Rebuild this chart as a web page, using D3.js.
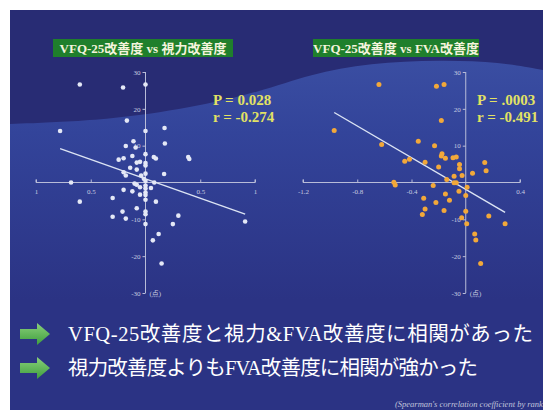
<!DOCTYPE html>
<html><head><meta charset="utf-8">
<script src="https://cdn.jsdelivr.net/npm/d3@7"></script>
<style>html,body{margin:0;padding:0;background:#fff;overflow:hidden}</style>
</head><body><svg id="c" width="543" height="410"></svg>
<script>
// ---- data ----
const leftTitle = "VFQ-25改善度 vs 視力改善度";
const rightTitle = "VFQ-25改善度 vs FVA改善度";
const leftStats = ["P = 0.028", "r = -0.274"];
const rightStats = ["P = .0003", "r = -0.491"];
const leftXTicks = [-1, -0.5, 0.5, 1];
const leftXTickLabels = ["1", "0.5", "0.5", "1"];
const rightXTicks = [-1.2, -0.8, -0.4, 0.4];
const rightXTickLabels = ["-1.2", "-0.8", "-0.4", "0.4"];
const yTicks = [30, 20, 10, -10, -20, -30];
const leftYTickLabels = ["30", "20", "10", "-10", "-20", "-30"];
const rightYTickLabels = ["30", "20", "10", "-10", "-20", "-30"];
const unitLabel = "(点)";
// left: visual acuity improvement (x) vs VFQ-25 improvement (y)
const leftX = [-0.60,-0.205,0,-0.17,-0.78,0,0.174,0.177,-0.11,-0.18,-0.09,0.39,0.40,-0.245,-0.2,-0.12,0,0.076,0.095,-0.08,-0.05,0,0,-0.14,-0.08,-0.2,-0.18,-0.04,0,0.17,-0.015,0,-0.68,-0.1,-0.08,0.08,0,-0.05,0.05,0,-0.2,-0.12,0,-0.05,0,-0.30,0,0.095,-0.60,-0.08,-0.21,0,0,-0.30,-0.18,0.30,0.25,0,0.91,0.12,0.067,0.147];
const leftY = [26.6,25.8,26.6,16.8,14,14,14.8,10.6,11.2,9.9,9.5,6.9,6.4,6.2,6.6,7.2,7.7,6.9,6.5,5.4,5.6,5.3,4.6,4.0,3.5,2.8,1.9,1.9,2.4,2.3,1.0,0.4,0,-0.3,-0.6,0,-0.8,-1.3,-1.5,-1.6,-2,-2.4,-2.7,-3.3,-3.4,-4.2,-4.7,-5.2,-5.2,-7,-7.9,-7.9,-8.6,-9.3,-9.8,-9,-11.3,-11.3,-10.6,-14,-15.7,-22];
const leftFitX = [-0.78, 0.91];
const leftFitY = [9.2, -8.6];
// right: FVA improvement (x) vs VFQ-25 improvement (y)
const rightX = [-0.64,-0.216,-0.16,-0.18,-0.97,-0.62,-0.35,-0.23,-0.175,-0.18,-0.15,-0.094,-0.07,-0.45,-0.415,-0.30,-0.2,-0.046,-0.046,-0.086,-0.027,0.05,0.14,0.15,-0.14,-0.53,-0.52,-0.24,-0.086,-0.07,0.01,-0.05,-0.15,0,-0.31,-0.12,-0.22,-0.30,-0.16,0,-0.32,-0.03,0.17,0.007,0.29,0.066,0.074,0.11];
const rightY = [26.6,26.1,26.6,16.8,14.1,10.3,11.2,10.0,7.8,7.2,6.6,6.7,6.9,5.8,6.3,5.5,4.2,4.9,3.7,1.7,1.9,2.5,5.4,3.2,0.8,0.1,-0.7,-0.8,-0.1,-0.1,-1.3,-2.4,-3.1,-3.5,-4.3,-4.8,-5.4,-7.2,-7.6,-7.8,-8.7,-9.6,-9.1,-11.2,-11.2,-14,-15.6,-22];
const rightFitX = [-0.97, 0.29];
const rightFitY = [19.0, -8.1];
const bullets = ["VFQ-25改善度と視力&FVA改善度に相関があった", "視力改善度よりもFVA改善度に相関が強かった"];
const footnote = "(Spearman's correlation coefficient by rank";

// ---- drawing ----
const svg = d3.select("#c");
const defs = svg.append("defs");
const g1 = defs.append("linearGradient").attr("id","band").attr("gradientUnits","userSpaceOnUse")
  .attr("x1",0).attr("y1",60).attr("x2",0).attr("y2",300);
g1.append("stop").attr("offset","0%").attr("stop-color","#3a4ea2");
g1.append("stop").attr("offset","30%").attr("stop-color","#33449a");
g1.append("stop").attr("offset","100%").attr("stop-color","#2b3384");
const ga = defs.append("linearGradient").attr("id","arr").attr("x1",0).attr("y1",0).attr("x2",0).attr("y2",1);
ga.append("stop").attr("offset","0%").attr("stop-color","#8ad07a");
ga.append("stop").attr("offset","100%").attr("stop-color","#3e9e3e");

// background
svg.append("rect").attr("x",10).attr("y",10).attr("width",533).attr("height",400).attr("fill","#282c74");
const wave = d3.line().curve(d3.curveBasis);
const waveTop = [[10,124],[110,120],[190,108],[260,92],[310,74],[370,63],[440,60],[500,62],[543,70]];
svg.append("path")
  .attr("d", wave(waveTop) + "L543,410L10,410Z")
  .attr("fill","url(#band)");

function panel(opts){
  const x = d3.scaleLinear().domain(opts.xDomain).range(opts.xRange);
  const y = d3.scaleLinear().domain([-30,30]).range([293,72]);
  const g = svg.append("g");
  // x axis
  const ax = d3.axisBottom(x).tickValues(opts.xTicks).tickSize(3).tickPadding(4)
    .tickFormat((d,i)=>opts.xLabels[i]);
  const gx = g.append("g").attr("transform",`translate(0,${y(0)})`).call(ax);
  gx.select(".domain").attr("stroke","#b8bcd8").attr("stroke-width",1).attr("d",`M${opts.xRange[0]},-3V0H${opts.xRange[1]}V-3`);
  gx.selectAll(".tick line").attr("stroke","#b8bcd8").attr("y1",-3).attr("y2",0);
  gx.selectAll(".tick text").attr("fill","#c8cce0").attr("font-size",7).attr("font-family","Liberation Serif");
  // y axis
  const ay = d3.axisLeft(y).tickValues(yTicks).tickSize(3).tickPadding(2)
    .tickFormat((d,i)=>opts.yLabels[i]);
  const gy = g.append("g").attr("transform",`translate(${x(0)},0)`).call(ay);
  gy.select(".domain").attr("stroke","#b8bcd8").attr("stroke-width",1).attr("d",`M0,${y(30)}V${y(-30)}`);
  gy.selectAll(".tick line").attr("stroke","#b8bcd8");
  gy.selectAll(".tick text").attr("fill","#c8cce0").attr("font-size",7).attr("font-family","Liberation Serif");
  g.append("text").attr("x",x(0)+4).attr("y",y(-30)+3).attr("fill","#c8cce0")
    .attr("font-size",7).attr("font-family","Liberation Serif, Noto Sans CJK JP").text(unitLabel);
  // fit line
  g.append("line").attr("x1",x(opts.fitX[0])).attr("y1",y(opts.fitY[0]))
    .attr("x2",x(opts.fitX[1])).attr("y2",y(opts.fitY[1]))
    .attr("stroke","#dce4f4").attr("stroke-width",1.4);
  // points
  g.selectAll("circle.p").data(opts.xs.map((v,i)=>[v,opts.ys[i]])).join("circle")
    .attr("class","p").attr("cx",d=>x(d[0])).attr("cy",d=>y(d[1])).attr("r",opts.r)
    .attr("fill",opts.color);
  // title
  g.append("rect").attr("x",opts.titleBox[0]).attr("y",39).attr("width",opts.titleBox[1]).attr("height",18).attr("fill","#1f7f2c");
  g.append("text").attr("x",opts.titleBox[0]+opts.titleBox[1]/2).attr("y",52.5).attr("text-anchor","middle")
    .attr("fill","#f4f4dc").attr("font-size",13).attr("font-weight","bold")
    .attr("font-family","Liberation Serif, Noto Sans CJK JP").text(opts.title);
  // stats
  opts.stats.forEach((s,i)=>{
    g.append("text").attr("x",opts.statX).attr("y",105+i*17).attr("fill","#e2e264")
      .attr("font-size",15).attr("font-weight",600).attr("font-family","Liberation Serif").text(s);
  });
}

panel({xDomain:[-1,1], xRange:[36,255], xTicks:leftXTicks, xLabels:leftXTickLabels, yLabels:leftYTickLabels,
  xs:leftX, ys:leftY, fitX:leftFitX, fitY:leftFitY, color:"#e4e8f6", r:2.3,
  title:leftTitle, titleBox:[53,180], stats:leftStats, statX:213});
panel({xDomain:[-1.2,0.4], xRange:[303,520], xTicks:rightXTicks, xLabels:rightXTickLabels, yLabels:rightYTickLabels,
  xs:rightX, ys:rightY, fitX:rightFitX, fitY:rightFitY, color:"#f2a83a", r:2.5,
  title:rightTitle, titleBox:[313,166], stats:rightStats, statX:477});

// bullets
const arrowPts = [[0,-5],[17,-5],[17,-11],[30,0],[17,11],[17,5],[0,5]];
bullets.forEach((b,i)=>{
  const cy = 334 + i*34;
  svg.append("path").attr("d", d3.line()(arrowPts.map(p=>[20+p[0], cy+p[1]])) + "Z")
    .attr("fill","url(#arr)");
  svg.append("text").attr("x",68).attr("y",cy+7).attr("fill","#ffffff")
    .attr("font-size",20.5).attr("font-family","Liberation Serif, Noto Sans CJK JP")
    .attr("textLength", i===0 ? 465 : 410).attr("lengthAdjust","spacing").text(b);
});
svg.append("text").attr("x",395).attr("y",407).attr("fill","#c0c4dc").attr("font-size",8.5)
  .attr("font-style","italic").attr("font-family","Liberation Serif").text(footnote);
</script></body></html>
